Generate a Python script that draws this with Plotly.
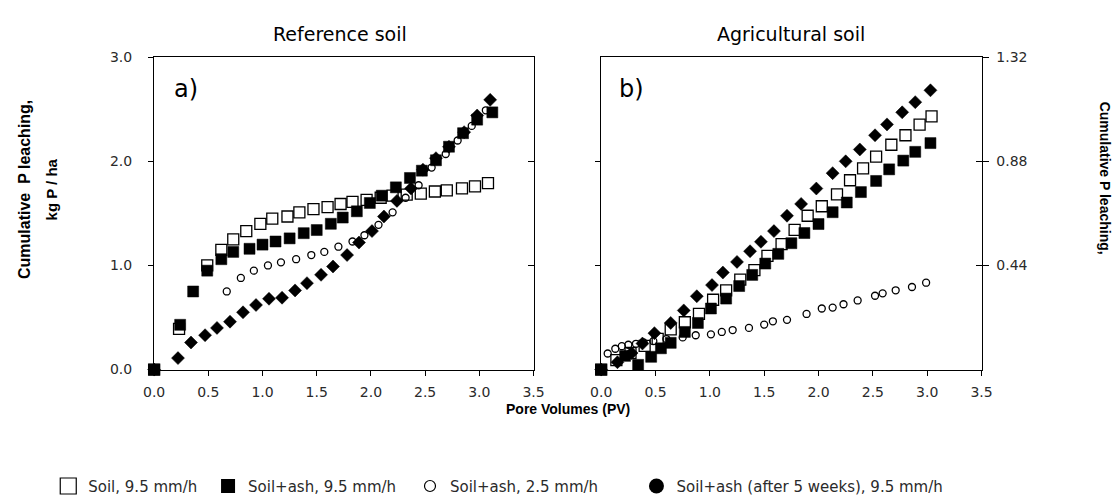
import plotly.graph_objects as go

# ---------------- data: panel a) Reference soil (kg P / ha) ----------------
a_soil_x = [0, 0.23, 0.49, 0.62, 0.73, 0.85, 0.98, 1.09, 1.23, 1.34, 1.47, 1.60, 1.72, 1.83, 1.96, 2.09, 2.20, 2.33, 2.46, 2.59, 2.70, 2.84, 2.96, 3.08]
a_soil_y = [0, 0.39, 1.00, 1.15, 1.25, 1.33, 1.40, 1.45, 1.47, 1.51, 1.54, 1.56, 1.59, 1.61, 1.63, 1.65, 1.67, 1.68, 1.69, 1.71, 1.72, 1.74, 1.76, 1.79]

a_ash_x = [0, 0.24, 0.36, 0.49, 0.62, 0.73, 0.88, 1.00, 1.12, 1.25, 1.38, 1.50, 1.63, 1.74, 1.87, 1.99, 2.10, 2.23, 2.36, 2.47, 2.60, 2.72, 2.85, 2.98, 3.12]
a_ash_y = [0, 0.43, 0.75, 0.95, 1.06, 1.13, 1.16, 1.20, 1.23, 1.26, 1.31, 1.34, 1.40, 1.46, 1.52, 1.60, 1.67, 1.75, 1.84, 1.91, 2.01, 2.14, 2.27, 2.40, 2.47]

a_slow_x = [0, 0.67, 0.80, 0.92, 1.05, 1.17, 1.31, 1.45, 1.57, 1.70, 1.83, 1.94, 2.07, 2.20, 2.32, 2.44, 2.56, 2.69, 2.80, 2.93, 3.06]
a_slow_y = [0, 0.75, 0.88, 0.95, 1.00, 1.03, 1.06, 1.10, 1.13, 1.18, 1.23, 1.29, 1.39, 1.51, 1.65, 1.77, 1.94, 2.07, 2.20, 2.34, 2.49]

a_aged_x = [0, 0.22, 0.34, 0.47, 0.58, 0.70, 0.82, 0.94, 1.06, 1.18, 1.30, 1.41, 1.54, 1.65, 1.78, 1.89, 2.01, 2.12, 2.24, 2.37, 2.48, 2.60, 2.72, 2.86, 2.98, 3.10]
a_aged_y = [0, 0.11, 0.26, 0.33, 0.40, 0.46, 0.55, 0.62, 0.68, 0.69, 0.76, 0.83, 0.91, 0.99, 1.10, 1.22, 1.33, 1.47, 1.62, 1.74, 1.92, 2.03, 2.14, 2.28, 2.44, 2.59]

# ---------------- data: panel b) Agricultural soil (right axis) ----------------
b_soil_x = [0, 0.14, 0.27, 0.40, 0.52, 0.64, 0.77, 0.90, 1.03, 1.15, 1.28, 1.41, 1.53, 1.66, 1.78, 1.90, 2.03, 2.17, 2.29, 2.41, 2.53, 2.67, 2.80, 2.93, 3.04]
b_soil_y = [0, 0.04, 0.07, 0.10, 0.13, 0.17, 0.20, 0.235, 0.295, 0.335, 0.38, 0.42, 0.48, 0.53, 0.59, 0.65, 0.69, 0.74, 0.80, 0.85, 0.90, 0.95, 0.99, 1.035, 1.07]

b_ash_x = [0, 0.22, 0.34, 0.46, 0.55, 0.64, 0.77, 0.89, 1.01, 1.15, 1.27, 1.39, 1.51, 1.63, 1.75, 1.87, 2.00, 2.13, 2.26, 2.39, 2.53, 2.65, 2.78, 2.89, 3.03]
b_ash_y = [0, 0.058, 0.02, 0.054, 0.09, 0.113, 0.159, 0.197, 0.258, 0.30, 0.353, 0.40, 0.448, 0.489, 0.534, 0.577, 0.615, 0.665, 0.706, 0.75, 0.797, 0.846, 0.883, 0.92, 0.957]

b_slow_x = [0, 0.06, 0.13, 0.19, 0.25, 0.32, 0.39, 0.48, 0.60, 0.75, 0.87, 1.01, 1.11, 1.21, 1.36, 1.50, 1.58, 1.71, 1.89, 2.03, 2.13, 2.23, 2.36, 2.52, 2.59, 2.71, 2.86, 2.99]
b_slow_y = [0, 0.068, 0.088, 0.099, 0.105, 0.109, 0.115, 0.12, 0.129, 0.136, 0.145, 0.149, 0.159, 0.167, 0.176, 0.19, 0.204, 0.21, 0.235, 0.258, 0.262, 0.276, 0.292, 0.312, 0.322, 0.335, 0.349, 0.367]

b_aged_x = [0, 0.15, 0.28, 0.38, 0.49, 0.64, 0.76, 0.88, 1.02, 1.12, 1.25, 1.37, 1.47, 1.59, 1.71, 1.84, 1.98, 2.13, 2.25, 2.38, 2.52, 2.63, 2.77, 2.89, 3.03]
b_aged_y = [0, 0.031, 0.07, 0.11, 0.154, 0.197, 0.25, 0.31, 0.357, 0.41, 0.455, 0.50, 0.54, 0.585, 0.65, 0.70, 0.765, 0.83, 0.88, 0.93, 0.99, 1.036, 1.087, 1.13, 1.18]

x_tick_vals = [0, 0.5, 1.0, 1.5, 2.0, 2.5, 3.0, 3.5]
x_tick_text = ["0.0", "0.5", "1.0", "1.5", "2.0", "2.5", "3.0", "3.5"]
a_y_tick_vals = [0, 1, 2, 3]
a_y_tick_text = ["0.0", "1.0", "2.0", "3.0"]
b_y_tick_vals = [0.44, 0.88, 1.32]
b_y_tick_text = ["0.44", "0.88", "1.32"]

series_names = ["Soil, 9.5 mm/h", "Soil+ash, 9.5 mm/h", "Soil+ash, 2.5 mm/h",
                "Soil+ash (after 5 weeks), 9.5 mm/h"]

# ---------------- figure ----------------
W, H = 1119, 503
FONT = "DejaVu Sans, Liberation Sans, sans-serif"
BOLD_FONT = "Liberation Sans, Arial, sans-serif"
BLACK = "#000000"
TXT = "#2a2a2a"

fig = go.Figure()

styles = [
    dict(symbol="square-open", size=11, color=BLACK, line=dict(width=1.3, color=BLACK)),
    dict(symbol="square", size=11, color=BLACK, line=dict(width=0.5, color=BLACK)),
    dict(symbol="circle-open", size=7, color=BLACK, line=dict(width=1.3, color=BLACK)),
    dict(symbol="diamond", size=10, color=BLACK, line=dict(width=0.5, color=BLACK)),
]

panel_a = [(a_soil_x, a_soil_y), (a_ash_x, a_ash_y), (a_slow_x, a_slow_y), (a_aged_x, a_aged_y)]
panel_b = [(b_soil_x, b_soil_y), (b_ash_x, b_ash_y), (b_slow_x, b_slow_y), (b_aged_x, b_aged_y)]

order = [3, 1, 2, 0]
for i in order:
    xs, ys = panel_a[i]
    fig.add_trace(go.Scatter(x=xs, y=ys, mode="markers", marker=styles[i], xaxis="x", yaxis="y",
                             cliponaxis=False, showlegend=False, name=series_names[i]))
for i in order:
    xs, ys = panel_b[i]
    fig.add_trace(go.Scatter(x=xs, y=ys, mode="markers", marker=styles[i], xaxis="x2", yaxis="y2",
                             cliponaxis=False, showlegend=False, name=series_names[i]))

# legend entries (symbols as in the original legend), one legend box per entry
legend_markers = [
    dict(symbol="square-open", size=16, color=BLACK, line=dict(width=1.2, color=BLACK)),
    dict(symbol="square", size=14, color=BLACK),
    dict(symbol="circle-open", size=11, color=BLACK, line=dict(width=1.2, color=BLACK)),
    dict(symbol="circle", size=15, color=BLACK),
]
legend_ids = ["legend", "legend2", "legend3", "legend4"]
for name, mk, lid in zip(series_names, legend_markers, legend_ids):
    fig.add_trace(go.Scatter(x=[None], y=[None], mode="markers", marker=mk, name=name,
                             xaxis="x", yaxis="y", showlegend=True, legend=lid))

# helper traces so overlay axes are drawn
for ya in ["y3", "y4", "y5"]:
    fig.add_trace(go.Scatter(x=[None], y=[None], mode="markers", showlegend=False,
                             xaxis="x" if ya == "y3" else "x2", yaxis=ya, hoverinfo="skip"))

def px_x(v):
    return v / W

def px_y(v):
    return 1 - v / H

xa_dom = [px_x(146), px_x(533)]
xb_dom = [px_x(602), px_x(990)]
y_dom = [px_y(375), px_y(51)]

tickfont = dict(family=FONT, size=14, color=TXT)
common_x = dict(range=[0, 3.5], tickvals=x_tick_vals, ticktext=x_tick_text, ticks="outside",
                ticklen=5, tickwidth=1.3, tickcolor=BLACK, showline=True, linecolor=BLACK,
                linewidth=1.3, mirror=True, showgrid=False, zeroline=False, tickfont=tickfont,
                ticklabelstandoff=4, fixedrange=True)

legend_common = dict(orientation="h", xanchor="left", y=px_y(496), yanchor="middle",
                     font=dict(family=FONT, size=15, color=TXT), bgcolor="rgba(0,0,0,0)",
                     itemclick=False, itemdoubleclick=False)
legend_sym_centers = [68, 231, 437, 668]

fig.update_layout(
    width=W, height=H,
    margin=dict(l=0, r=0, t=0, b=0),
    paper_bgcolor="white", plot_bgcolor="white",
    font=dict(family=FONT, color=BLACK),
    xaxis=dict(domain=xa_dom, anchor="y", **common_x),
    xaxis2=dict(domain=xb_dom, anchor="y2", **common_x),
    yaxis=dict(domain=y_dom, anchor="x", range=[0, 3], tickvals=a_y_tick_vals, ticktext=a_y_tick_text,
               ticks="outside", ticklen=5, tickwidth=1.3, tickcolor=BLACK, showline=True,
               linecolor=BLACK, linewidth=1.3, mirror=True, showgrid=False, zeroline=False,
               tickfont=tickfont, ticklabelstandoff=13),
    yaxis3=dict(overlaying="y", anchor="x", side="right", range=[0, 3], tickvals=[1, 2],
                ticks="inside", ticklen=6, tickwidth=1.3, tickcolor=BLACK, showticklabels=False,
                showline=False, showgrid=False, zeroline=False),
    yaxis2=dict(domain=y_dom, anchor="x2", range=[0, 1.32], tickvals=[0.44, 0.88],
                ticks="outside", ticklen=5, tickwidth=1.3, tickcolor=BLACK, showticklabels=False,
                showline=True, linecolor=BLACK, linewidth=1.3, mirror=True, showgrid=False,
                zeroline=False),
    yaxis4=dict(overlaying="y2", anchor="x2", side="right", range=[0, 1.32], tickvals=b_y_tick_vals,
                ticktext=b_y_tick_text, ticks="outside", ticklen=6, tickwidth=1.3, tickcolor=BLACK,
                showline=False, showgrid=False, zeroline=False, tickfont=tickfont,
                ticklabelstandoff=5),
    yaxis5=dict(overlaying="y2", anchor="x2", side="right", range=[0, 1.32], tickvals=[0.44, 0.88],
                ticks="inside", ticklen=6, tickwidth=1.3, tickcolor=BLACK, showticklabels=False,
                showline=False, showgrid=False, zeroline=False),
    legend=dict(x=px_x(legend_sym_centers[0] - 30), **legend_common),
    legend2=dict(x=px_x(legend_sym_centers[1] - 30), **legend_common),
    legend3=dict(x=px_x(legend_sym_centers[2] - 30), **legend_common),
    legend4=dict(x=px_x(legend_sym_centers[3] - 30), **legend_common),
    showlegend=True,
)

annos = [
    dict(text="Reference soil", x=px_x(336), y=px_y(27), font=dict(family=FONT, size=19)),
    dict(text="Agricultural soil", x=px_x(796), y=px_y(27), font=dict(family=FONT, size=19)),
    dict(text="a)", x=px_x(178), y=px_y(84), font=dict(family=FONT, size=24)),
    dict(text="b)", x=px_x(633), y=px_y(84), font=dict(family=FONT, size=24)),
    dict(text="<b>Pore Volumes (PV)</b>", x=px_x(568), y=px_y(416), font=dict(family=BOLD_FONT, size=14)),
    dict(text="<b>Cumulative  P leaching,</b>", x=px_x(14), y=px_y(188), textangle=-90,
         font=dict(family=BOLD_FONT, size=16)),
    dict(text="<b>kg P / ha</b>", x=px_x(41), y=px_y(188), textangle=-90, font=dict(family=BOLD_FONT, size=15)),
    dict(text="<b>Cumulative P leaching,</b>", x=px_x(1116), y=px_y(176), textangle=90,
         font=dict(family=BOLD_FONT, size=14)),
]
for a in annos:
    a.setdefault("showarrow", False)
    a["xref"] = "paper"
    a["yref"] = "paper"
    a["xanchor"] = "center"
    a["yanchor"] = "middle"
    a["font"] = dict(color=BLACK, **a["font"])
    fig.add_annotation(**a)

fig.write_html("out.html")
